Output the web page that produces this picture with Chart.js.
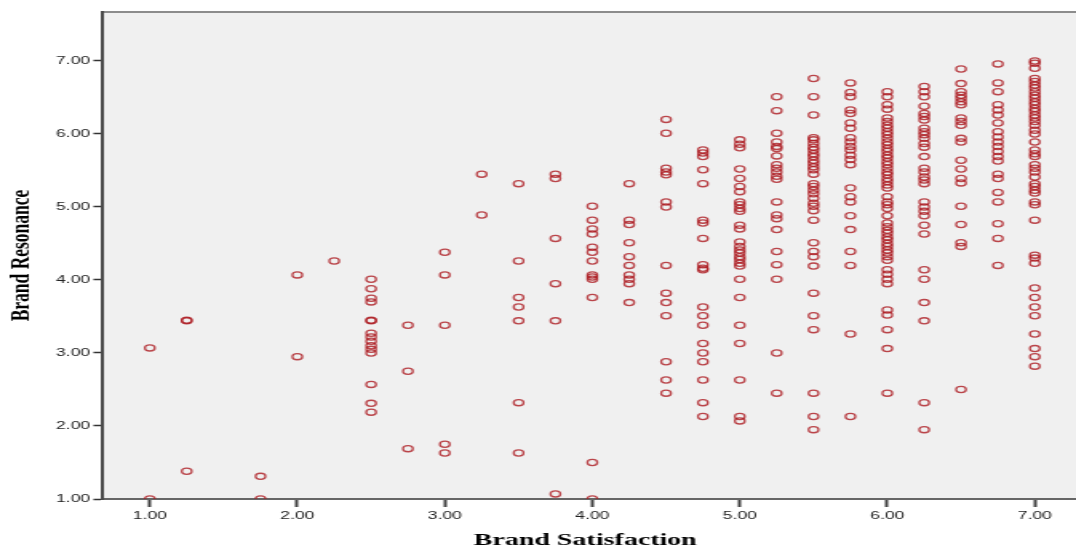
<!DOCTYPE html>
<html>
<head>
<meta charset="utf-8">
<title>Brand Satisfaction vs Brand Resonance</title>
<script src="https://cdn.jsdelivr.net/npm/chart.js@4.4.1/dist/chart.umd.min.js"></script>
<style>
  html, body { margin: 0; padding: 0; background: #fff; overflow: hidden; }
  /* the source picture is an SPSS plot stretched sideways, so draw narrow and stretch */
  #wrap { width: 673px; height: 551px; transform: scaleX(1.5988); transform-origin: 0 0; }
</style>
</head>
<body>
<div id="wrap"><canvas id="scatter" width="673" height="551"></canvas></div>
<script>
// ===========================
// Data — Brand Satisfaction (x) vs Brand Resonance (y)
// ===========================
const xTicks = [1, 2, 3, 4, 5, 6, 7];
const yTicks = [1, 2, 3, 4, 5, 6, 7];

const res100 = [3.07, 1.00];
const res125 = [3.45, 3.44, 1.38];
const res175 = [1.31, 1.00];
const res200 = [4.07, 2.95];
const res225 = [4.26];
const res250 = [4.01, 3.88, 3.75, 3.70, 3.45, 3.44, 3.27, 3.22, 3.16, 3.10, 3.05, 3.00, 2.57, 2.31, 2.19];
const res275 = [3.38, 2.75, 1.69];
const res300 = [4.38, 4.07, 3.38, 1.75, 1.63];
const res325 = [5.45, 4.89];
const res350 = [5.32, 4.26, 3.76, 3.63, 3.44, 2.32, 1.63];
const res375 = [5.45, 5.39, 4.57, 3.95, 3.44, 1.07];
const res400 = [5.01, 4.82, 4.70, 4.63, 4.45, 4.38, 4.26, 4.07, 4.04, 4.01, 3.76, 1.50, 1.00];
const res425 = [5.32, 4.82, 4.76, 4.51, 4.32, 4.20, 4.07, 4.01, 3.95, 3.69];
const res450 = [6.20, 6.01, 5.53, 5.48, 5.44, 5.07, 5.00, 4.20, 3.82, 3.69, 3.51, 2.88, 2.63, 2.45];
const res475 = [5.78, 5.74, 5.69, 5.51, 5.32, 4.82, 4.78, 4.57, 4.21, 4.16, 4.14, 3.63, 3.51, 3.38, 3.13, 3.00, 2.88, 2.63, 2.32, 2.13];
const res500 = [5.92, 5.86, 5.81, 5.52, 5.39, 5.28, 5.21, 5.07, 5.03, 4.98, 4.94, 4.75, 4.70, 4.52, 4.46, 4.41, 4.37, 4.32, 4.28, 4.23, 4.19, 4.01, 3.76, 3.38, 3.13, 2.63, 2.13, 2.07];
const res525 = [6.51, 6.32, 6.01, 5.89, 5.83, 5.80, 5.70, 5.58, 5.53, 5.48, 5.42, 5.38, 5.07, 4.89, 4.84, 4.69, 4.39, 4.21, 4.01, 3.00, 2.45];
const res550 = [6.76, 6.51, 6.26, 5.95, 5.92, 5.87, 5.82, 5.78, 5.73, 5.69, 5.64, 5.60, 5.55, 5.51, 5.45, 5.32, 5.28, 5.23, 5.18, 5.12, 5.05, 5.01, 4.95, 4.82, 4.51, 4.39, 4.32, 4.19, 3.82, 3.51, 3.32, 2.45, 2.13, 1.95];
const res575 = [6.70, 6.57, 6.51, 6.33, 6.28, 6.15, 6.08, 5.95, 5.89, 5.83, 5.78, 5.71, 5.65, 5.58, 5.26, 5.14, 5.07, 4.88, 4.69, 4.39, 4.20, 3.26, 2.13];
const res600 = [6.58, 6.51, 6.40, 6.34, 6.22, 6.17, 6.12, 6.08, 6.03, 5.99, 5.94, 5.89, 5.85, 5.80, 5.76, 5.71, 5.67, 5.62, 5.58, 5.53, 5.48, 5.44, 5.39, 5.35, 5.30, 5.26, 5.14, 5.07, 5.03, 4.98, 4.88, 4.78, 4.73, 4.68, 4.64, 4.59, 4.55, 4.50, 4.46, 4.41, 4.37, 4.32, 4.27, 4.14, 4.08, 4.01, 3.95, 3.59, 3.52, 3.32, 3.06, 2.45];
const res625 = [6.65, 6.58, 6.51, 6.38, 6.28, 6.24, 6.19, 6.08, 6.03, 5.99, 5.94, 5.87, 5.82, 5.69, 5.53, 5.48, 5.41, 5.37, 5.32, 5.07, 5.00, 4.94, 4.88, 4.75, 4.63, 4.14, 4.01, 3.69, 3.44, 2.32, 1.95];
const res650 = [6.89, 6.69, 6.58, 6.53, 6.49, 6.44, 6.40, 6.22, 6.17, 6.12, 5.94, 5.89, 5.64, 5.52, 5.39, 5.33, 5.01, 4.76, 4.51, 4.46, 2.50];
const res675 = [6.96, 6.70, 6.58, 6.40, 6.33, 6.26, 6.15, 6.03, 5.96, 5.89, 5.83, 5.76, 5.69, 5.63, 5.45, 5.39, 5.20, 5.07, 4.77, 4.57, 4.20];
const res700 = [7.00, 6.97, 6.90, 6.76, 6.72, 6.67, 6.63, 6.58, 6.53, 6.49, 6.44, 6.40, 6.35, 6.31, 6.26, 6.22, 6.17, 6.12, 6.05, 6.00, 5.89, 5.78, 5.73, 5.69, 5.58, 5.53, 5.48, 5.41, 5.32, 5.28, 5.23, 5.19, 5.07, 5.03, 4.82, 4.34, 4.30, 4.23, 3.89, 3.76, 3.63, 3.51, 3.26, 3.06, 2.95, 2.82];

const columns = [
  [1.00, res100], [1.25, res125], [1.75, res175], [2.00, res200], [2.25, res225],
  [2.50, res250], [2.75, res275], [3.00, res300], [3.25, res325], [3.50, res350],
  [3.75, res375], [4.00, res400], [4.25, res425], [4.50, res450], [4.75, res475],
  [5.00, res500], [5.25, res525], [5.50, res550], [5.75, res575], [6.00, res600],
  [6.25, res625], [6.50, res650], [6.75, res675], [7.00, res700],
];

const points = [];
columns.forEach(([sat, list]) => list.forEach(r => points.push({ x: sat, y: r })));

// ===========================
// Chart Config
// ===========================
const tickFont = { family: 'Liberation Sans', size: 11 };
const titleFont = { family: 'Liberation Serif', size: 17.5, weight: 'bold' };

// grey plot panel runs out to the right edge, dark frame line on top
const plotBackground = {
  id: 'plotBackground',
  beforeDraw(chart) {
    const { ctx, chartArea: a } = chart;
    ctx.save();
    ctx.fillStyle = '#f0f0f0';
    ctx.fillRect(a.left, a.top, chart.width - a.left, a.bottom - a.top);
    ctx.strokeStyle = '#8c8c8c';
    ctx.lineWidth = 2;
    ctx.beginPath();
    ctx.moveTo(a.left, a.top);
    ctx.lineTo(chart.width, a.top);
    ctx.stroke();
    ctx.restore();
  },
  afterDraw(chart) {
    // bottom axis line also runs to the edge
    const { ctx, chartArea: a } = chart;
    ctx.save();
    ctx.strokeStyle = '#666';
    ctx.lineWidth = 2;
    ctx.beginPath();
    ctx.moveTo(a.right, a.bottom);
    ctx.lineTo(chart.width, a.bottom);
    ctx.stroke();
    ctx.restore();
  }
};

new Chart(document.getElementById('scatter').getContext('2d'), {
  type: 'scatter',
  data: {
    datasets: [{
      label: 'Brand Resonance',
      data: points,
      pointStyle: 'circle',
      pointRadius: 3.1,
      pointBorderWidth: 1.3,
      borderColor: 'rgba(172, 26, 32, 0.8)',
      backgroundColor: 'rgba(0,0,0,0)',
    }]
  },
  options: {
    responsive: false,
    animation: false,
    devicePixelRatio: 1,
    layout: { padding: { top: 12, left: 0, right: 0, bottom: 0 } },
    plugins: { legend: { display: false }, tooltip: { enabled: false } },
    scales: {
      x: {
        type: 'linear',
        min: 0.682,
        max: 7.222,
        afterBuildTicks: s => { s.ticks = xTicks.map(v => ({ value: v })); },
        afterFit: s => { s.height = 52; },
        grid: { drawOnChartArea: false, drawTicks: true, tickLength: 8, tickColor: '#444', tickWidth: 2, color: '#444' },
        border: { color: '#666', width: 2 },
        ticks: { padding: 2, color: '#222', font: tickFont, maxRotation: 0, callback: v => v.toFixed(2) },
        title: { display: true, text: 'Brand Satisfaction', color: '#000', font: titleFont, padding: { top: 0, bottom: 0.5 } }
      },
      y: {
        type: 'linear',
        min: 1,
        max: 7.671,
        afterBuildTicks: s => { s.ticks = yTicks.map(v => ({ value: v })); },
        afterFit: s => { s.width = 64.4; },
        grid: { drawOnChartArea: false, drawTicks: true, tickLength: 6, tickColor: '#333', tickWidth: 1.5, color: '#333' },
        border: { color: '#4a4a4a', width: 2 },
        ticks: { padding: 2, color: '#222', font: tickFont, callback: v => v.toFixed(2) },
        title: { display: true, text: 'Brand Resonance', color: '#000', font: titleFont, padding: { top: 3, bottom: 0 } }
      }
    }
  },
  plugins: [plotBackground]
});
</script>
</body>
</html>
